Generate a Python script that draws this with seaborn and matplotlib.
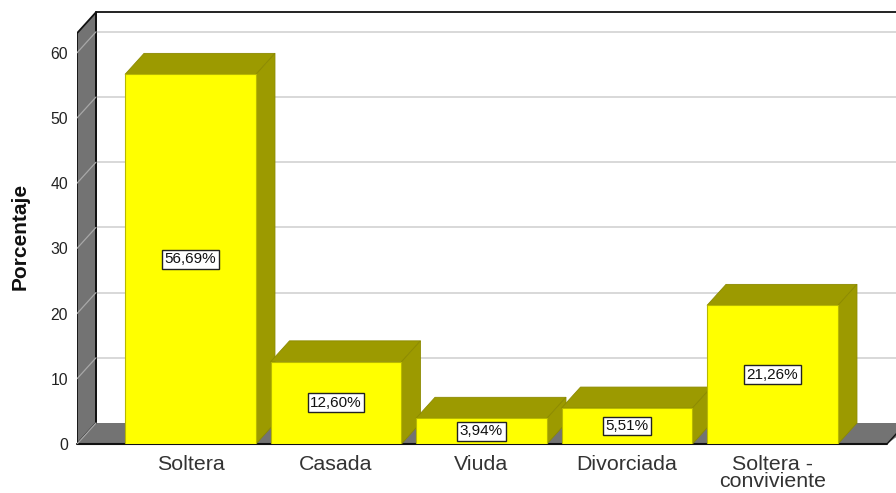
import matplotlib
matplotlib.use("Agg")
import matplotlib.pyplot as plt
import seaborn as sns
import pandas as pd
from matplotlib.patches import Polygon

categories = ["Soltera", "Casada", "Viuda", "Divorciada", "Soltera -\nconviviente"]
values = [56.69, 12.60, 3.94, 5.51, 21.26]
labels = ["56,69%", "12,60%", "3,94%", "5,51%", "21,26%"]
yticks = [0, 10, 20, 30, 40, 50, 60]

W, H = 896, 493
PX_X = 145.5   # pixels per category
PX_Y = 6.52    # pixels per percent
X0, Y0 = 77, 444
DX, DY = 19 / PX_X, 21 / PX_Y
XMIN = -(190.5 - X0) / PX_X
XMAX = (W - 190.5) / PX_X
XFRONT = (887 - 190.5) / PX_X
YTOP = 63.0
YLIM = Y0 / PX_Y

sns.set_theme(style="white")
plt.rcParams["font.family"] = ["Liberation Sans", "DejaVu Sans"]

fig = plt.figure(figsize=(W / 100, H / 100), dpi=100, facecolor="white")
ax = fig.add_axes([X0 / W, (H - Y0) / H, 1 - X0 / W, Y0 / H])

df = pd.DataFrame({"cat": categories, "val": values})
sns.barplot(data=df, x="cat", y="val", color="#ffff00", saturation=1, width=0.9,
            edgecolor="#b8b800", linewidth=0.8, ax=ax, zorder=5)
ax.set_xlim(XMIN, XMAX)
ax.set_ylim(0, YLIM)
for s in ax.spines.values():
    s.set_visible(False)

WALL = "#737373"
GRID = "#d6d6d6"
SIDE = "#9c9a00"

# back wall top edge and left wall
ax.add_patch(Polygon([(XMIN, 0), (XMIN + DX, DY), (XMIN + DX, YTOP + DY), (XMIN, YTOP)],
                     closed=True, fc=WALL, ec="#111111", lw=1.3, zorder=2))
ax.add_patch(Polygon([(XMIN, 0), (XMIN + DX, DY), (XMAX + DX, DY), (XFRONT, 0)],
                     closed=True, fc=WALL, ec="none", lw=0, zorder=2, clip_on=False))
ax.plot([XMIN + DX, XMAX], [YTOP + DY, YTOP + DY], color="#111111", lw=1.3, zorder=2)
ax.plot([XMIN + DX, XMIN + DX], [DY, YTOP + DY], color="#111111", lw=1.3, zorder=2.1)
ax.plot([XMIN, XFRONT], [0, 0], color="#111111", lw=1.5, zorder=2.2, clip_on=False)
ax.plot([XFRONT, XFRONT + DX], [0, DY], color="#111111", lw=1.0, zorder=2.2)
ax.plot([XMIN, XMIN + DX], [0, DY], color="#a8a8a8", lw=0.9, zorder=2.2)

# gridlines on the back wall, continuing down the left wall
for t in yticks[1:]:
    ax.plot([XMIN + DX, XMAX], [t + DY, t + DY], color=GRID, lw=1.3, zorder=1)
    ax.plot([XMIN, XMIN + DX], [t, t + DY], color="#a8a8a8", lw=0.9, zorder=2.2)

# depth faces derived from the bar rectangles
for i, bar in enumerate(ax.patches[:len(values)]):
    x0, w, h = bar.get_x(), bar.get_width(), bar.get_height()
    bar.set_zorder(5 + 2 * i)
    ax.add_patch(Polygon([(x0, h), (x0 + DX, h + DY), (x0 + w + DX, h + DY), (x0 + w, h)],
                         closed=True, fc=SIDE, ec="#8c8a00", lw=0.6, zorder=4 + 2 * i))
    ax.add_patch(Polygon([(x0 + w, 0), (x0 + w + DX, DY), (x0 + w + DX, h + DY), (x0 + w, h)],
                         closed=True, fc=SIDE, ec="#8c8a00", lw=0.6, zorder=4 + 2 * i))
    ax.text(x0 + w / 2, h / 2, labels[i], ha="center", va="center",
            fontsize=11, color="#111111", zorder=30,
            bbox=dict(boxstyle="square,pad=0.16", fc="white", ec="#222222", lw=1.0))

ax.set_yticks(yticks)
ax.set_yticklabels([str(t) for t in yticks], fontsize=11.3, color="#222222")
ax.tick_params(axis="y", length=0, pad=6.5)
ax.tick_params(axis="x", length=0, pad=8, labelsize=15.4, labelcolor="#333333")
for lab in ax.get_xticklabels():
    lab.set_linespacing(0.88)
ax.set_xlabel("")
ax.set_ylabel("")
fig.text(20 / W, (H - 236) / H, "Porcentaje", rotation=90, ha="center", va="center",
         fontsize=15, fontweight="bold", color="#111111")

fig.savefig("out.png", dpi=100, facecolor="white")
